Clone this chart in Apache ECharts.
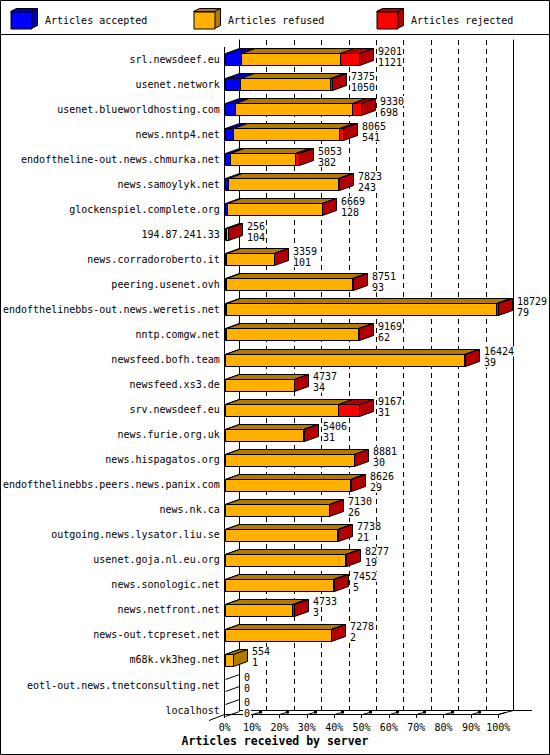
<!DOCTYPE html>
<html><head><meta charset="utf-8">
<script src="https://cdn.jsdelivr.net/npm/echarts/dist/echarts.min.js"></script>
<style>html,body{margin:0;padding:0;background:#fff}#c{width:550px;height:755px}</style>
</head><body><div id="c"></div>
<script>
// ---------- data ----------
const hosts = ['srl.newsdeef.eu','usenet.network','usenet.blueworldhosting.com','news.nntp4.net',
 'endoftheline-out.news.chmurka.net','news.samoylyk.net','glockenspiel.complete.org','194.87.241.33',
 'news.corradoroberto.it','peering.usenet.ovh','endofthelinebbs-out.news.weretis.net','nntp.comgw.net',
 'newsfeed.bofh.team','newsfeed.xs3.de','srv.newsdeef.eu','news.furie.org.uk','news.hispagatos.org',
 'endofthelinebbs.peers.news.panix.com','news.nk.ca','outgoing.news.lysator.liu.se','usenet.goja.nl.eu.org',
 'news.sonologic.net','news.netfront.net','news-out.tcpreset.net','m68k.vk3heg.net',
 'eotl-out.news.tnetconsulting.net','localhost'];
const offered  = [9201,7375,9330,8065,5053,7823,6669,256,3359,8751,18729,9169,16424,4737,9167,5406,8881,8626,7130,7738,8277,7452,4733,7278,554,0,0];
const accepted = [1121,1050,698,541,382,243,128,104,101,93,79,62,39,34,31,31,30,29,26,21,19,5,3,2,1,0,0];
const refused  = [6770,6175,8012,7254,4441,7530,6501,100,3238,8638,18500,9067,16365,4683,7699,5345,8826,8562,7084,7692,8218,7427,4610,7256,553,0,0];
const rejected = [1310,150,620,270,230,50,40,52,20,20,150,40,20,20,1437,30,25,35,20,25,40,20,120,20,0,0,0];
const seriesNames = ['Articles accepted','Articles refused','Articles rejected'];
const xTickStep = 10;       // percent
const xAxisTitle = 'Articles received by server';

// ---------- styles / layout ----------
const frontColors = ['#0000ff','#ffb000','#ff0000'];
const sideColors  = ['#0000b2','#b27b00','#b20000'];
const FONT = '"DejaVu Sans Mono", "Liberation Mono", monospace';
const FX = 224.7, FW = 273.6, FT = 46.5, FH = 676.1;   // front plane grid
const BX = 239.3, BW = 274, BT = 40, BB = 710;          // back plane grid
const AXIS_Y = 714;
const DX = 14, DY = 5, HALF = 6;

const maxOffered = Math.max(...offered);
const pct = v => v / maxOffered * 100;
const segs = [accepted, refused, rejected];

function seriesData(s){
  return hosts.map((h, i) => {
    let start = 0;
    for (let k = 0; k < s; k++) start += segs[k][i];
    const val = segs[s][i];
    let lastIdx = -1;
    for (let k = 0; k < 3; k++) if (segs[k][i] > 0) lastIdx = k;
    return [pct(start), pct(start + val), i, lastIdx === s ? 1 : 0, val];
  });
}
const cr = v => Math.round(v) + 0.5;
const ST = {stroke:'#000', lineWidth:1};

function makeRender(s){
  return function(params, api){
    const start = api.value(0), end = api.value(1), row = api.value(2), last = api.value(3), val = api.value(4);
    const p0 = api.coord([start, row]), p1 = api.coord([end, row]);
    const yc = p0[1];
    const x0 = cr(p0[0]), x1 = cr(p1[0]);
    const yt = cr(yc - HALF), yb = yt + 2*HALF;
    if (!(val > 0)) {
      if (s === 0 && offered[row] === 0) {
        return {type:'group', children:[
          {type:'line', shape:{x1:x0,y1:yt,x2:x0+DX,y2:yt-DY}, style:ST},
          {type:'line', shape:{x1:x0,y1:yb,x2:x0+DX,y2:yb-DY}, style:ST}
        ]};
      }
      return null;
    }
    const ch = [
      {type:'rect', shape:{x:x0,y:yt,width:x1-x0,height:yb-yt}, style:Object.assign({fill:frontColors[s]}, ST)},
      {type:'polygon', shape:{points:[[x0,yt],[x1,yt],[x1+DX,yt-DY],[x0+DX,yt-DY]]}, style:Object.assign({fill:sideColors[s]}, ST)}
    ];
    if (last) ch.push({type:'polygon', shape:{points:[[x1,yt],[x1+DX,yt-DY],[x1+DX,yb-DY],[x1,yb]]}, style:Object.assign({fill:sideColors[s]}, ST)});
    return {type:'group', children:ch};
  };
}

function renderLabels(params, api){
  const end = api.value(0), row = api.value(1);
  const p = api.coord([end, row]);
  const x = Math.round(p[0]) + 18, yc = p[1];
  const mk = (t, y) => ({type:'text', style:{text:String(t), x:x, y:y, fill:'#000',
     font:'10px ' + FONT, fontSize:10, fontFamily:FONT, textAlign:'left', align:'left',
     textVerticalAlign:'middle', verticalAlign:'middle', backgroundColor:'#fff', padding:[0,1,0,1]}});
  return {type:'group', children:[mk(offered[row], yc-8), mk(accepted[row], yc+3)]};
}

const series = seriesNames.map((name, s) => ({
  name, type:'custom', coordinateSystem:'cartesian2d', xAxisIndex:0, yAxisIndex:0,
  itemStyle:{color:frontColors[s]}, encode:{x:[0,1], y:2},
  renderItem: makeRender(s), data: seriesData(s), silent:true
}));
series.push({
  name:'labels', type:'custom', coordinateSystem:'cartesian2d', xAxisIndex:0, yAxisIndex:0,
  encode:{x:0, y:1}, renderItem: renderLabels, silent:true,
  data: hosts.map((h, i) => [pct(offered[i]), i])
});

// decorations
const graphic = [
  {type:'rect', shape:{x:0.5,y:0.5,width:549,height:754}, style:{fill:'none', stroke:'#000', lineWidth:1}},
  {type:'line', shape:{x1:0,y1:34.5,x2:550,y2:34.5}, style:ST},
  {type:'line', shape:{x1:224.5,y1:47,x2:224.5,y2:AXIS_Y+0.5}, style:ST},
  {type:'line', shape:{x1:209,y1:720.5,x2:224.5,y2:AXIS_Y+0.5}, style:ST},
  {type:'line', shape:{x1:FX+FW,y1:AXIS_Y+0.5,x2:BX+BW,y2:BB+0.5}, style:ST},
  {type:'line', shape:{x1:BX+BW,y1:BB+0.5,x2:532,y2:BB+0.5}, style:ST}
];
for (let k = 1; k <= 10; k++) {
  const x = cr(FX + FW * k / 10);
  graphic.push({type:'line', shape:{x1:x,y1:AXIS_Y+0.5,x2:x+7,y2:AXIS_Y-1.5}, style:ST});
  if (k < 10) graphic.push({type:'rect', shape:{x:x+6.5,y:BB+0.5,width:3,height:3}, style:{fill:'#000'}});
}
// legend 3D parts
const legLeft = [10.5, 193.5, 376.5], LT = 11.5, LW = 21, LH = 17;
legLeft.forEach((L, s) => {
  graphic.push({type:'polygon', shape:{points:[[L,LT],[L+LW,LT],[L+LW+6,LT-3],[L+6,LT-3]]}, style:Object.assign({fill:sideColors[s]}, ST)});
  graphic.push({type:'polygon', shape:{points:[[L+LW,LT],[L+LW+6,LT-3],[L+LW+6,LT+LH-3],[L+LW,LT+LH]]}, style:Object.assign({fill:sideColors[s]}, ST)});
});

const legends = seriesNames.map((n, s) => ({
  data:[n], left:legLeft[s], top:LT, padding:0, itemWidth:LW, itemHeight:LH, icon:'rect',
  selectedMode:false, itemStyle:{borderColor:'#000', borderWidth:1},
  textStyle:{fontFamily:FONT, fontSize:10, color:'#000', padding:[0,0,0,8]}
}));

const chart = echarts.init(document.getElementById('c'), null, {renderer:'svg'});
chart.setOption({
  animation:false,
  backgroundColor:'#fff',
  title:{text:xAxisTitle, left:'center', top:735, padding:0,
         textStyle:{fontFamily:FONT, fontWeight:'bold', fontSize:11.5, color:'#000'}},
  legend: legends,
  grid:[{left:FX, top:FT, width:FW, height:FH}, {left:BX, top:BT, width:BW, height:BB-BT}],
  xAxis:[
    {type:'value', gridIndex:0, min:0, max:100, interval:xTickStep, offset:AXIS_Y-(FT+FH),
     axisLine:{show:true, lineStyle:{color:'#000', width:1}},
     axisTick:{show:true, length:4, lineStyle:{color:'#000'}},
     axisLabel:{formatter:'{value}%', fontFamily:FONT, fontSize:10, color:'#000', margin:8},
     splitLine:{show:false}},
    {type:'value', gridIndex:1, min:0, max:100, interval:xTickStep,
     axisLine:{show:true, lineStyle:{color:'#000', width:1}},
     axisTick:{show:false}, axisLabel:{show:false},
     splitLine:{show:true, lineStyle:{color:'#000', width:1, type:[5,4]}}}
  ],
  yAxis:[
    {type:'category', gridIndex:0, data:hosts, inverse:true,
     axisLine:{show:false}, axisTick:{show:false},
     axisLabel:{interval:0, margin:5, fontFamily:FONT, fontSize:10, color:'#000'}},
    {type:'value', gridIndex:1, position:'left', axisLine:{show:true, lineStyle:{color:'#000'}},
     axisTick:{show:false}, axisLabel:{show:false}, splitLine:{show:false}},
    {type:'value', gridIndex:1, position:'right', axisLine:{show:true, lineStyle:{color:'#000'}},
     axisTick:{show:false}, axisLabel:{show:false}, splitLine:{show:false}}
  ],
  graphic: graphic,
  series: series
});
</script></body></html>
